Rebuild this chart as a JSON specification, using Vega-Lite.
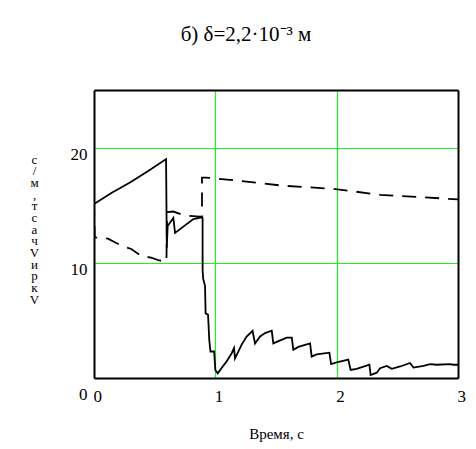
{
  "$schema": "https://vega.github.io/schema/vega-lite/v6.json",
  "width": 364,
  "height": 288,
  "autosize": "none",
  "padding": {"left": 94, "top": 90, "right": 18, "bottom": 71},
  "background": "white",
  "config": {
    "view": {"stroke": null},
    "font": "Liberation Serif"
  },
  "title": {
    "text": "б) δ=2,2·10⁻³ м",
    "font": "Liberation Serif",
    "fontSize": 21,
    "fontWeight": "normal",
    "color": "black",
    "anchor": "middle",
    "frame": "group",
    "dx": -30,
    "baseline": "alphabetic",
    "offset": 28
  },
  "data": {
    "values": [
      {"s": "a", "i": 1, "t": 0.0, "v": 15.1},
      {"s": "a", "i": 2, "t": 0.15, "v": 16.1},
      {"s": "a", "i": 3, "t": 0.3, "v": 17.0},
      {"s": "a", "i": 4, "t": 0.45, "v": 18.0},
      {"s": "a", "i": 5, "t": 0.594, "v": 19.0},
      {"s": "a", "i": 6, "t": 0.6, "v": 11.3},
      {"s": "a", "i": 7, "t": 0.607, "v": 13.2},
      {"s": "a", "i": 8, "t": 0.654, "v": 13.9},
      {"s": "a", "i": 9, "t": 0.668, "v": 12.6},
      {"s": "a", "i": 10, "t": 0.819, "v": 13.8},
      {"s": "a", "i": 11, "t": 0.888, "v": 13.95},
      {"s": "a", "i": 12, "t": 0.895, "v": 13.9},
      {"s": "a", "i": 13, "t": 0.895, "v": 9.4},
      {"s": "a", "i": 14, "t": 0.9, "v": 8.6},
      {"s": "a", "i": 15, "t": 0.915, "v": 8.0},
      {"s": "a", "i": 16, "t": 0.92, "v": 5.6},
      {"s": "a", "i": 17, "t": 0.94, "v": 5.5},
      {"s": "a", "i": 18, "t": 0.95, "v": 3.3},
      {"s": "a", "i": 19, "t": 0.96, "v": 2.3},
      {"s": "a", "i": 20, "t": 0.99, "v": 2.3},
      {"s": "a", "i": 21, "t": 1.0, "v": 0.7},
      {"s": "a", "i": 22, "t": 1.02, "v": 0.4},
      {"s": "a", "i": 23, "t": 1.05, "v": 0.85},
      {"s": "a", "i": 24, "t": 1.09, "v": 1.4},
      {"s": "a", "i": 25, "t": 1.135, "v": 2.15},
      {"s": "a", "i": 26, "t": 1.154, "v": 2.6},
      {"s": "a", "i": 27, "t": 1.162, "v": 1.7},
      {"s": "a", "i": 28, "t": 1.217, "v": 2.9},
      {"s": "a", "i": 29, "t": 1.258, "v": 3.6},
      {"s": "a", "i": 30, "t": 1.307, "v": 4.1},
      {"s": "a", "i": 31, "t": 1.327, "v": 3.0},
      {"s": "a", "i": 32, "t": 1.369, "v": 3.6},
      {"s": "a", "i": 33, "t": 1.41, "v": 3.9},
      {"s": "a", "i": 34, "t": 1.465, "v": 4.1},
      {"s": "a", "i": 35, "t": 1.478, "v": 3.0},
      {"s": "a", "i": 36, "t": 1.52, "v": 3.2},
      {"s": "a", "i": 37, "t": 1.589, "v": 3.5},
      {"s": "a", "i": 38, "t": 1.63, "v": 3.5},
      {"s": "a", "i": 39, "t": 1.643, "v": 2.45},
      {"s": "a", "i": 40, "t": 1.684, "v": 2.7},
      {"s": "a", "i": 41, "t": 1.781, "v": 3.0},
      {"s": "a", "i": 42, "t": 1.794, "v": 1.85},
      {"s": "a", "i": 43, "t": 1.835, "v": 2.05},
      {"s": "a", "i": 44, "t": 1.94, "v": 2.2},
      {"s": "a", "i": 45, "t": 1.954, "v": 1.2},
      {"s": "a", "i": 46, "t": 2.0, "v": 1.35},
      {"s": "a", "i": 47, "t": 2.096, "v": 1.6},
      {"s": "a", "i": 48, "t": 2.115, "v": 0.7},
      {"s": "a", "i": 49, "t": 2.165, "v": 0.8},
      {"s": "a", "i": 50, "t": 2.27, "v": 1.15},
      {"s": "a", "i": 51, "t": 2.28, "v": 0.26},
      {"s": "a", "i": 52, "t": 2.33, "v": 0.46},
      {"s": "a", "i": 53, "t": 2.358, "v": 0.85},
      {"s": "a", "i": 54, "t": 2.413, "v": 1.05},
      {"s": "a", "i": 55, "t": 2.454, "v": 0.8},
      {"s": "a", "i": 56, "t": 2.523, "v": 1.0},
      {"s": "a", "i": 57, "t": 2.605, "v": 1.3},
      {"s": "a", "i": 58, "t": 2.633, "v": 0.9},
      {"s": "a", "i": 59, "t": 2.715, "v": 1.05},
      {"s": "a", "i": 60, "t": 2.77, "v": 1.2},
      {"s": "a", "i": 61, "t": 2.825, "v": 1.15},
      {"s": "a", "i": 62, "t": 2.935, "v": 1.2},
      {"s": "a", "i": 63, "t": 2.962, "v": 1.15},
      {"s": "a", "i": 64, "t": 3.0, "v": 1.15},
      {"s": "b", "i": 1, "t": 0.0, "v": 15.2},
      {"s": "b", "i": 2, "t": 0.006, "v": 12.2},
      {"s": "b", "i": 3, "t": 0.115, "v": 12.1},
      {"s": "b", "i": 4, "t": 0.225, "v": 11.5},
      {"s": "b", "i": 5, "t": 0.307, "v": 11.2},
      {"s": "b", "i": 6, "t": 0.39, "v": 10.6},
      {"s": "b", "i": 7, "t": 0.47, "v": 10.45},
      {"s": "b", "i": 8, "t": 0.54, "v": 10.2},
      {"s": "b", "i": 9, "t": 0.597, "v": 10.1},
      {"s": "b", "i": 10, "t": 0.602, "v": 14.4},
      {"s": "b", "i": 11, "t": 0.654, "v": 14.45},
      {"s": "b", "i": 12, "t": 0.75, "v": 14.1},
      {"s": "b", "i": 13, "t": 0.87, "v": 14.0},
      {"s": "b", "i": 14, "t": 0.89, "v": 14.0},
      {"s": "b", "i": 15, "t": 0.89, "v": 17.4},
      {"s": "b", "i": 16, "t": 0.92, "v": 17.4},
      {"s": "b", "i": 17, "t": 1.12, "v": 17.2},
      {"s": "b", "i": 18, "t": 1.55, "v": 16.7},
      {"s": "b", "i": 19, "t": 1.99, "v": 16.4},
      {"s": "b", "i": 20, "t": 2.36, "v": 15.9},
      {"s": "b", "i": 21, "t": 2.7, "v": 15.7},
      {"s": "b", "i": 22, "t": 3.0, "v": 15.5}
    ]
  },
  "resolve": {"axis": {"x": "independent", "y": "independent"}},
  "layer": [
    {
      "transform": [{"filter": "datum.s == 'a'"}],
      "mark": {"type": "line", "color": "black", "strokeWidth": 1.8, "clip": true},
      "encoding": {
        "x": {
          "field": "t",
          "type": "quantitative",
          "scale": {"domain": [0, 3], "nice": false, "zero": false},
          "axis": {
            "orient": "bottom",
            "values": [0, 1, 2, 3],
            "title": "Время, с",
            "titleFont": "Liberation Serif",
            "titleFontSize": 15,
            "titleFontWeight": "normal",
            "titleColor": "black",
            "titleBaseline": "alphabetic",
            "titleY": 60,
            "domain": true,
            "domainColor": "black",
            "domainWidth": 2,
            "ticks": false,
            "grid": false,
            "labelFont": "Liberation Serif",
            "labelFontSize": 17,
            "labelColor": "black",
            "labelAlign": "left",
            "labelBaseline": "top",
            "labelPadding": 10,
            "labelFlush": false,
            "labelOffset": -1
          }
        },
        "y": {
          "field": "v",
          "type": "quantitative",
          "scale": {"domain": [0, 25], "nice": false},
          "axis": {
            "orient": "left",
            "values": [0, 10, 20],
            "title": ["с", "/", "м", ",", "т", "с", "а", "ч", "V", "и", "р", "к", "V"],
            "titleAngle": 0,
            "titleFont": "Liberation Serif",
            "titleFontSize": 13,
            "titleFontWeight": "normal",
            "titleColor": "black",
            "titleLineHeight": 11.7,
            "titleAlign": "center",
            "titleBaseline": "alphabetic",
            "titleX": -60,
            "titleY": 73,
            "domain": true,
            "domainColor": "black",
            "domainWidth": 2,
            "ticks": false,
            "grid": false,
            "labelFont": "Liberation Serif",
            "labelFontSize": 17,
            "labelColor": "black",
            "labelBaseline": "alphabetic",
            "labelPadding": 7,
            "labelFlush": false,
            "labelOffset": {"condition": {"test": "datum.value == 0", "value": 21}, "value": 12}
          }
        }
      }
    },
    {
      "transform": [{"filter": "datum.s == 'b'"}],
      "mark": {"type": "line", "color": "black", "strokeWidth": 1.8, "strokeDash": [14, 9], "clip": true},
      "encoding": {
        "x": {
          "field": "t",
          "type": "quantitative",
          "scale": {"domain": [0, 3], "nice": false, "zero": false},
          "axis": {
            "orient": "top",
            "values": [1, 2],
            "title": null,
            "labels": false,
            "ticks": false,
            "domain": true,
            "domainColor": "black",
            "domainWidth": 2,
            "grid": true,
            "gridColor": "#22ee22",
            "gridWidth": 1.2,
            "gridOpacity": 1
          }
        },
        "y": {
          "field": "v",
          "type": "quantitative",
          "scale": {"domain": [0, 25], "nice": false},
          "axis": {
            "orient": "right",
            "values": [10, 20],
            "title": null,
            "labels": false,
            "ticks": false,
            "domain": true,
            "domainColor": "black",
            "domainWidth": 2,
            "grid": true,
            "gridColor": "#22ee22",
            "gridWidth": 1.2,
            "gridOpacity": 1
          }
        },
        "order": {"field": "i", "type": "quantitative"}
      }
    }
  ]
}
